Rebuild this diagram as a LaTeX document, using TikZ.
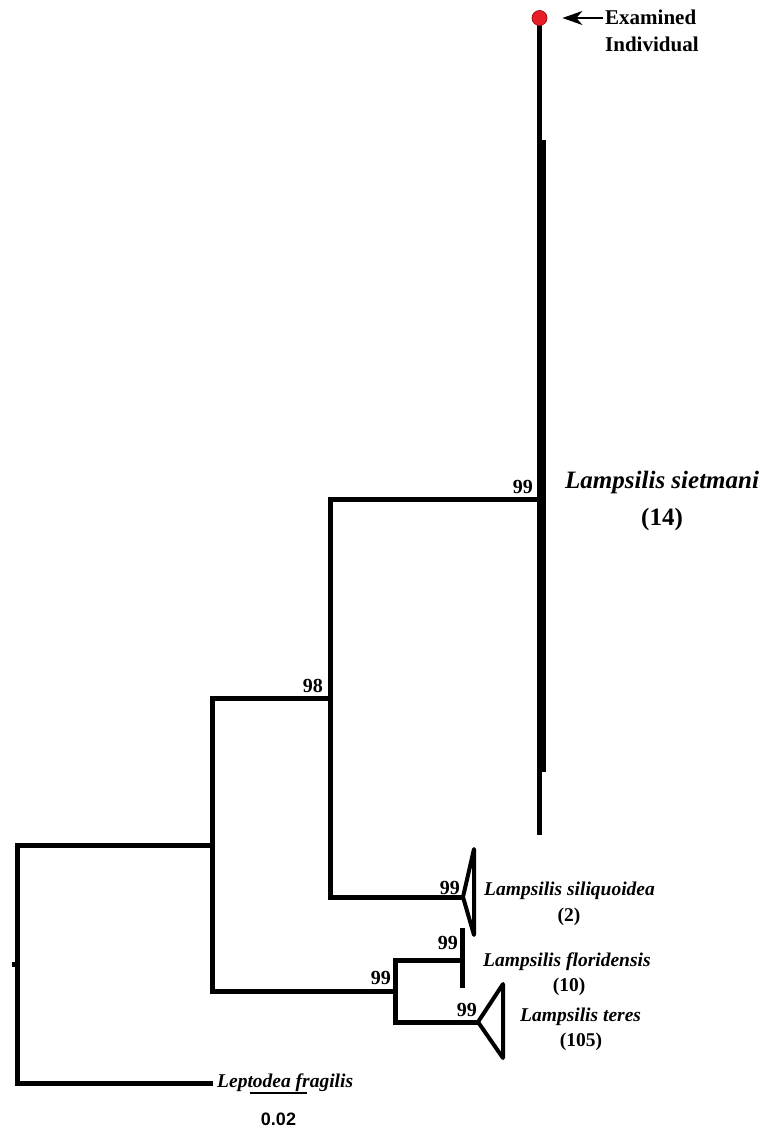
\documentclass[tikz,border=0pt]{standalone}
\usepackage{fontspec}
\setmainfont{Liberation Serif}
\newfontfamily\scalebarfont{Liberation Sans}
\usetikzlibrary{arrows.meta}
\definecolor{dotred}{RGB}{232,30,38}
\begin{document}
\begin{tikzpicture}[x=1pt,y=-1pt,
  branch/.style={line width=5pt, line join=miter, line cap=butt},
  clade/.style={line width=4pt, line join=round},
  boot/.style={font=\bfseries\fontsize{20}{20}\selectfont, anchor=east, inner sep=0pt},
  taxon/.style={font=\bfseries\itshape\fontsize{19.5}{20}\selectfont, anchor=base west, inner sep=0pt},
  count/.style={font=\bfseries\fontsize{19.5}{20}\selectfont, anchor=base, inner sep=0pt},
  bigtaxon/.style={font=\bfseries\itshape\fontsize{25}{26}\selectfont, anchor=base west, inner sep=0pt},
  bigcount/.style={font=\bfseries\fontsize{25}{26}\selectfont, anchor=base, inner sep=0pt},
  note/.style={font=\bfseries\fontsize{21}{22}\selectfont, anchor=base west, inner sep=0pt}]
\useasboundingbox (0,0) rectangle (783,1129);

% tree nodes and tips
\coordinate (stub) at (12,964);
\coordinate (root) at (17.5,964);
\coordinate (nA) at (212,845);
\coordinate (nB) at (330.5,698);
\coordinate (nC) at (395,991);
\coordinate (nS) at (539.5,499);
\coordinate (sTop) at (539.5,18);
\coordinate (sBot) at (539.5,835);
\coordinate (silApex) at (463,897);
\coordinate (silTop) at (474,849);
\coordinate (silBot) at (474,935);
\coordinate (floBar) at (462,960);
\coordinate (floTop) at (462,928);
\coordinate (floBot) at (462,988);
\coordinate (terApex) at (478,1022);
\coordinate (terTop) at (503,984);
\coordinate (terBot) at (503,1058);
\coordinate (lepTip) at (213,1083);

% branches
\draw[branch] (stub) -- (root);
\draw[branch] (root) |- (nA);
\draw[branch] (root) |- (lepTip);
\draw[branch] (nA) |- (nB);
\draw[branch] (nA) |- (nC);
\draw[branch] (nB) |- (nS);
\draw[branch] (nB) |- (silApex);
\draw[branch] (nC) |- (floBar);
\draw[branch] (nC) |- (terApex);

% Lampsilis sietmani: comb of individuals
\draw[branch] (sTop) -- (sBot);
\fill (537,140) rectangle (546,772);

% collapsed clades
\draw[clade] (silApex) -- (silTop) -- (silBot) -- cycle;
\draw[branch] (floTop) -- (floBot);
\draw[clade] (terApex) -- (terTop) -- (terBot) -- cycle;

% examined individual
\node[circle, fill=dotred, draw=dotred!70!black, line width=0.8pt,
      minimum size=15pt, inner sep=0pt] (dot) at (sTop) {};
\coordinate (arrTail) at (603,18);
\draw[line width=2pt, -{Stealth[length=20pt,width=14pt,inset=6pt]}]
  (arrTail) -- ([xshift=15pt]dot.east);
\node[note] (exam1) at (605,25) {Examined};
\node[note] (exam2) at (605,52) {Individual};

% bootstrap support
\node[boot] (bS) at (533,487) {99};
\node[boot] (bB) at (323,686) {98};
\node[boot] (bSil) at (460,888) {99};
\node[boot] (bFlo) at (458,943) {99};
\node[boot] (bTer) at (477,1010) {99};
\node[boot] (bC) at (391,978) {99};

% taxon labels
\node[bigtaxon] (tSie) at (565,488.5) {Lampsilis sietmani};
\node[bigcount] (cSie) at (662,525) {(14)};
\node[taxon] (tSil) at (484,895.5) {Lampsilis siliquoidea};
\node[count] (cSil) at (569,921.5) {(2)};
\node[taxon] (tFlo) at (483,966.5) {Lampsilis floridensis};
\node[count] (cFlo) at (569,991.5) {(10)};
\node[taxon] (tTer) at (520,1021.5) {Lampsilis teres};
\node[count] (cTer) at (581,1046.5) {(105)};
\node[taxon] (tLep) at (217,1087.5) {Leptodea fragilis};

% scale bar
\coordinate (sbL) at (250,1093);
\coordinate (sbR) at (307,1093);
\draw[line width=1.5pt] (sbL) -- (sbR);
\node[font=\scalebarfont\bfseries\fontsize{18}{18}\selectfont, anchor=base, inner sep=0pt]
  (sbLab) at (278.5,1125) {0.02};
\end{tikzpicture}
\end{document}
